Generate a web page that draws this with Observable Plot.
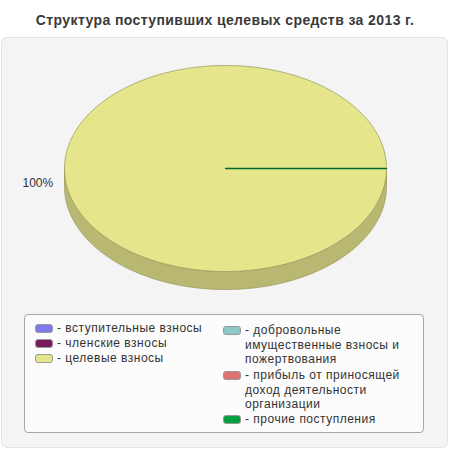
<!DOCTYPE html>
<html>
<head>
<meta charset="utf-8">
<script src="https://cdn.jsdelivr.net/npm/d3@7"></script>
<script src="https://cdn.jsdelivr.net/npm/@observablehq/plot@0.6"></script>
<style>
  body { margin: 0; background: #fff; font-family: "Liberation Sans", Arial, sans-serif; }
  #wrap { position: relative; width: 450px; height: 450px; overflow: hidden; }
  #title { position: absolute; left: 0; top: 12px; width: 450px; text-align: center;
           font-weight: bold; font-size: 14px; letter-spacing: 0.4px; color: #3a3a3a; }
  #panel { position: absolute; left: 1px; top: 37px; width: 445px; height: 409px;
           background: #f4f4f4; border: 1px solid #e3e3e3; border-radius: 6px; }
  #chart { position: absolute; left: 0; top: 37px; }
  #legend { position: absolute; left: 24px; top: 314px; width: 398px; height: 117px;
            background: #fcfcfc; border: 1px solid #a8a8a8; border-radius: 4px; }
  .item { position: absolute; font-size: 12px; color: #333; line-height: 14.5px; letter-spacing: 0.5px; }
  .sw { position: absolute; width: 16px; height: 7px; border: 1px solid #999; border-radius: 3px; }
  .txt { position: absolute; left: 22px; top: 0; }
</style>
</head>
<body>
<div id="wrap">
  <div id="title"></div>
  <div id="panel"></div>
  <div id="chart"></div>
  <div id="legend"></div>
</div>
<script>
const title = "Структура поступивших целевых средств за 2013 г.";
const categories = [
  "вступительные взносы",
  "членские взносы",
  "целевые взносы",
  "добровольные имущественные взносы и пожертвования",
  "прибыль от приносящей доход деятельности организации",
  "прочие поступления"
];
const values = [0, 0, 100, 0, 0, 0];
const colors = ["#7b7bee", "#7a1a5c", "#e5e58c", "#8cc8c8", "#e07272", "#00a040"];
const sideColors = ["#5c5cb2", "#5c1445", "#b9b872", "#69a0a0", "#a85656", "#007830"];
const edgeColors = ["#4a4a9a", "#4a1038", "#9c9c5e", "#558888", "#904848", "#006a2a"];
const legendLabels = [
  "- вступительные взносы",
  "- членские взносы",
  "- целевые взносы",
  "- добровольные<br>имущественные взносы и<br>пожертвования",
  "- прибыль от приносящей<br>доход деятельности<br>организации",
  "- прочие поступления"
];

document.getElementById("title").textContent = title;

// Pie geometry (unit space)
const depth = 0.175;
const total = d3.sum(values);
const arcs = d3.pie().sort(null).startAngle(Math.PI / 2).endAngle(Math.PI / 2 + 2 * Math.PI)(values);
const pt = (a) => ({ x: Math.sin(a), y: -Math.cos(a) });

const tops = [], sides = [], edges = [], labels = [];
arcs.forEach((arc, i) => {
  const a0 = arc.startAngle, a1 = arc.endAngle;
  if (a1 - a0 > 1e-9) {
    const n = Math.max(2, Math.ceil((a1 - a0) / 0.01));
    const poly = [{ x: 0, y: 0, k: i }];
    for (let j = 0; j <= n; j++) { const p = pt(a0 + (a1 - a0) * j / n); poly.push({ ...p, k: i }); }
    if (a1 - a0 < 2 * Math.PI - 1e-6) poly.push({ x: 0, y: 0, k: i });
    tops.push(...poly);
    for (let base = 0; base <= 2; base++) {
      const lo = Math.max(a0, Math.PI / 2 + base * 2 * Math.PI);
      const hi = Math.min(a1, 3 * Math.PI / 2 + base * 2 * Math.PI);
      if (hi - lo > 1e-9) {
        const m = Math.max(2, Math.ceil((hi - lo) / 0.01));
        const up = [], dn = [];
        for (let j = 0; j <= m; j++) {
          const p = pt(lo + (hi - lo) * j / m);
          up.push({ x: p.x, y: p.y });
          dn.push({ x: p.x, y: p.y + depth });
        }
        sides.push({ pts: [...up, ...dn.reverse(), up[0]], i });
      }
    }
    const mid = (a0 + a1) / 2, lp = pt(mid);
    labels.push({ x: lp.x * 1.07, y: lp.y * 1.07 + 0.145, text: Math.round(arc.value / total * 100) + "%" });
  } else if (arc.value === 0 && i === values.length - 1) {
    const p = pt(a0);
    edges.push({ x: 0, y: 0, k: i }, { x: p.x, y: p.y, k: i });
  }
});

const sideMarks = sides.map(s => Plot.line(s.pts, {
  x: "x", y: "y", fill: sideColors[s.i], stroke: edgeColors[s.i], strokeWidth: 0.8, curve: "linear"
}));

const chart = Plot.plot({
  width: 450, height: 270,
  margin: 0,
  style: { background: "transparent", overflow: "visible" },
  x: { domain: [-1, 1], range: [64, 386], axis: null },
  y: { domain: [-1, 1], range: [28, 234], axis: null },
  marks: [
    ...sideMarks,
    Plot.line(tops, { x: "x", y: "y", z: "k", fill: d => colors[d.k], stroke: d => edgeColors[d.k], strokeWidth: 0.8 }),
    Plot.line(edges, { x: "x", y: "y", z: "k", stroke: d => edgeColors[d.k], strokeWidth: 1.3 }),
    Plot.text(labels, { x: "x", y: "y", text: "text", textAnchor: "end", fontSize: 12, fill: "#333",
      fontFamily: "Liberation Sans, Arial, sans-serif", style: "letter-spacing:0.3px" })
  ]
});
document.getElementById("chart").appendChild(chart);

// Legend
const legend = document.getElementById("legend");
const pos = [
  [10, 6], [10, 21], [10, 36],
  [198, 8], [198, 53], [198, 97]
];
categories.forEach((c, i) => {
  const it = document.createElement("div");
  it.className = "item";
  it.style.left = pos[i][0] + "px";
  it.style.top = pos[i][1] + "px";
  it.title = c;
  it.innerHTML = `<div class="sw" style="background:${colors[i]};top:3px;left:0"></div><div class="txt" style="white-space:nowrap">${legendLabels[i]}</div>`;
  legend.appendChild(it);
});
</script>
</body>
</html>
